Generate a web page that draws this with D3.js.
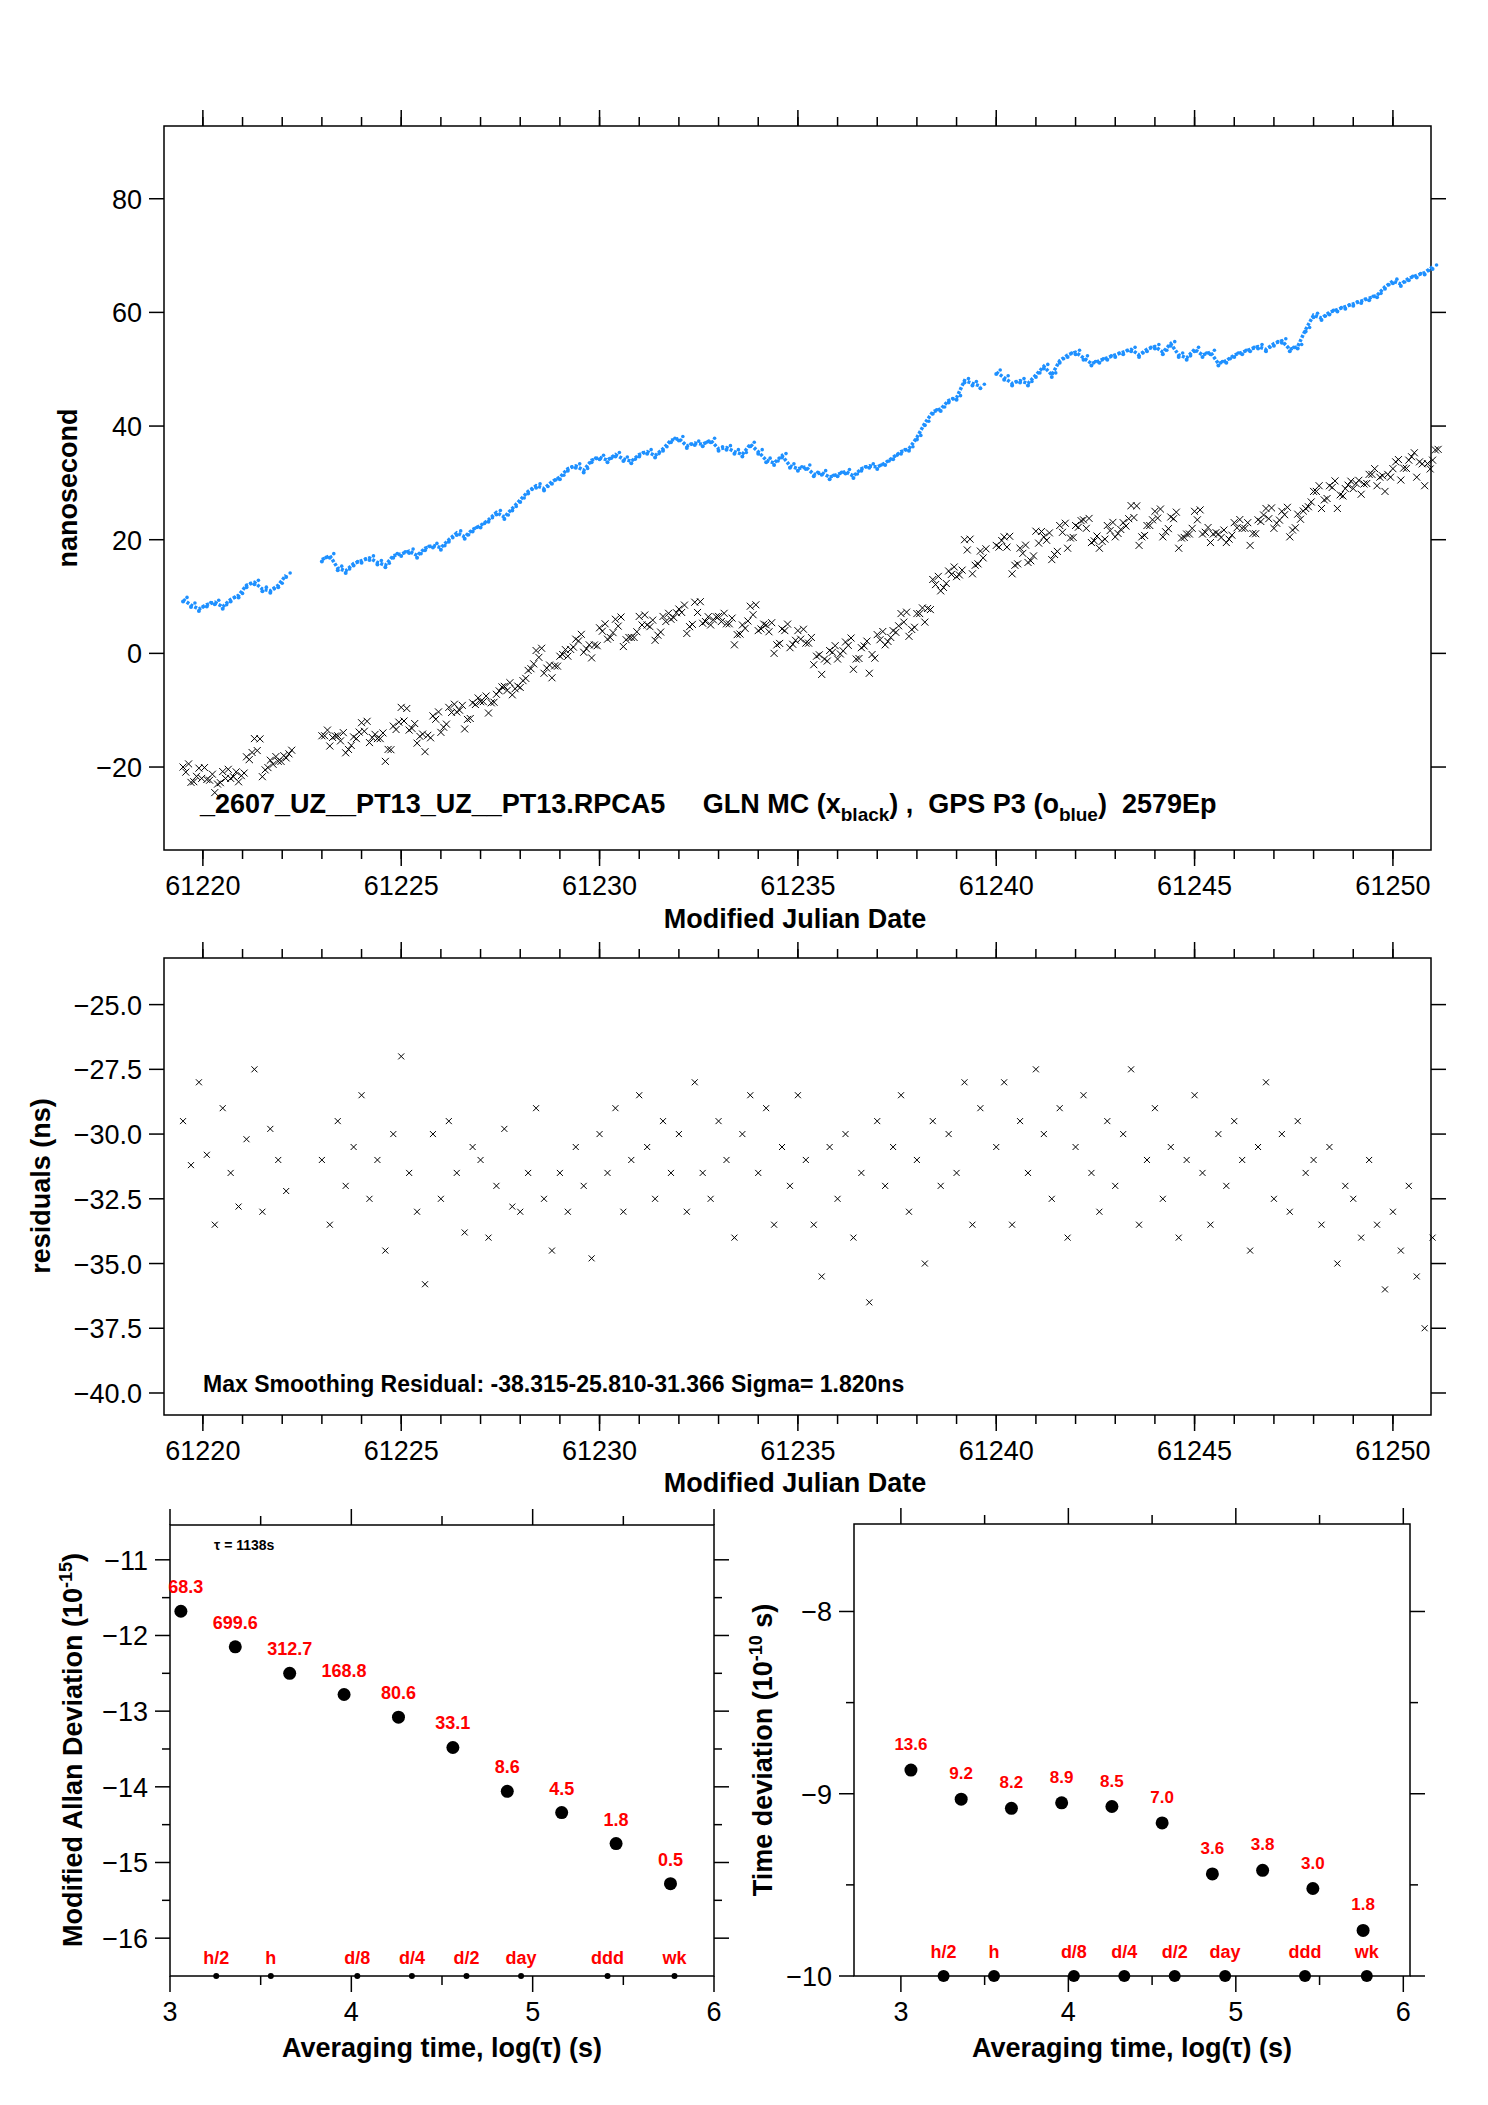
<!DOCTYPE html>
<html><head><meta charset="utf-8">
<script src="https://cdn.jsdelivr.net/npm/d3@7"></script>
<style>body{margin:0;background:#fff}text{font-family:"Liberation Sans",Arial,sans-serif}</style>
</head><body><svg id="c" width="1488" height="2105"></svg>
<script>
// ---- data ----
const segStarts=[61219.5,61223.0,61240.0];
const segCounts=[14,84,56];
const blueSeries=[9.5,8.5,7.8,8.6,9.0,8.2,9.5,10.2,12.0,12.5,11.3,11.0,12.0,13.8,
16.5,17.2,15.0,14.5,15.8,16.3,16.8,16.0,15.5,17.2,17.5,18.0,17.2,18.5,19.0,18.6,20.0,21.2,20.5,21.8,
22.5,23.5,24.8,24.0,25.5,27.0,28.5,29.5,29.0,30.2,31.0,32.5,33.0,32.2,34.0,34.5,34.0,35.0,34.2,33.8,
35.0,35.5,34.8,36.0,37.5,37.8,36.5,37.0,36.8,37.5,36.0,36.2,35.5,35.0,36.8,35.5,34.0,33.5,34.8,33.0,
32.5,32.8,31.5,31.8,31.0,31.5,32.0,31.2,32.5,33.0,32.8,33.5,34.5,35.5,36.0,38.0,40.5,42.5,43.0,44.5,
45.0,48.0,47.5,47.0,
49.5,48.5,47.5,48.0,47.5,49.0,50.5,49.0,51.5,52.5,53.0,52.0,51.0,51.5,52.0,52.5,53.0,53.5,52.5,53.5,
54.0,53.0,54.5,52.5,52.0,53.5,52.5,53.0,51.0,51.5,52.5,53.0,53.5,54.0,53.5,54.5,55.0,53.5,54.0,57.0,
59.5,59.0,60.0,60.5,61.0,61.5,62.0,62.5,63.0,64.5,65.5,65.0,66.0,66.5,67.0,68.0];
const residuals=[-29.5,-31.2,-28.0,-30.8,-33.5,-29.0,-31.5,-32.8,-30.2,-27.5,-33.0,-29.8,-31.0,-32.2,
-31.0,-33.5,-29.5,-32.0,-30.5,-28.5,-32.5,-31.0,-34.5,-30.0,-27.0,-31.5,-33.0,-35.8,-30.0,
-32.5,-29.5,-31.5,-33.8,-30.5,-31.0,-34.0,-32.0,-29.8,-32.8,-33.0,-31.5,-29.0,-32.5,-34.5,
-31.5,-33.0,-30.5,-32.0,-34.8,-30.0,-31.5,-29.0,-33.0,-31.0,-28.5,-30.5,-32.5,-29.5,-31.5,
-30.0,-33.0,-28.0,-31.5,-32.5,-29.5,-31.0,-34.0,-30.0,-28.5,-31.5,-29.0,-33.5,-30.5,-32.0,
-28.5,-31.0,-33.5,-35.5,-30.5,-32.5,-30.0,-34.0,-31.5,-36.5,-29.5,-32.0,-30.5,-28.5,-33.0,
-31.0,-35.0,-29.5,-32.0,-30.0,-31.5,-28.0,-33.5,-29.0,
-30.5,-28.0,-33.5,-29.5,-31.5,-27.5,-30.0,-32.5,-29.0,-34.0,-30.5,-28.5,-31.5,-33.0,-29.5,
-32.0,-30.0,-27.5,-33.5,-31.0,-29.0,-32.5,-30.5,-34.0,-31.0,-28.5,-31.5,-33.5,-30.0,-32.0,
-29.5,-31.0,-34.5,-30.5,-28.0,-32.5,-30.0,-33.0,-29.5,-31.5,-31.0,-33.5,-30.5,-35.0,-32.0,
-32.5,-34.0,-31.0,-33.5,-36.0,-33.0,-34.5,-32.0,-35.5,-37.5,-34.0];
const adevLogTau=[3.06,3.36,3.66,3.96,4.26,4.56,4.86,5.16,5.46,5.76];
const adevValues=[-11.68,-12.15,-12.5,-12.78,-13.08,-13.48,-14.06,-14.34,-14.75,-15.28];
const adevLabels=["68.3","699.6","312.7","168.8","80.6","33.1","8.6","4.5","1.8","0.5"];
const tdevValues=[-8.87,-9.03,-9.08,-9.05,-9.07,-9.16,-9.44,-9.42,-9.52,-9.75];
const tdevLabels=["13.6","9.2","8.2","8.9","8.5","7.0","3.6","3.8","3.0","1.8"];
const markNames=["h/2","h","d/8","d/4","d/2","day","ddd","wk"];
const markLogTau=[3.255,3.556,4.033,4.334,4.635,4.936,5.413,5.782];

// times grid
const times=[];segStarts.forEach((s,i)=>{for(let k=0;k<segCounts[i];k++)times.push(s+k*0.2);});
const pts=times.map((t,i)=>({t,b:blueSeries[i],r:residuals[i],k:blueSeries[i]+residuals[i]}));

const svg=d3.select("#c");
function frame(x,y){
  const [x0,x1]=x.range(),[y1,y0]=y.range();
  svg.append("rect").attr("x",x0).attr("y",y0).attr("width",x1-x0).attr("height",y1-y0).attr("fill","none").attr("stroke","#000").attr("stroke-width",1.5);
}
function xTicks(x,y,major,minor,fmt){
  const [y1,y0]=y.range();
  const g=svg.append("g");
  minor.forEach(v=>{g.append("line").attr("x1",x(v)).attr("x2",x(v)).attr("y1",y1).attr("y2",y1+9).attr("stroke","#000").attr("stroke-width",1.5);
    g.append("line").attr("x1",x(v)).attr("x2",x(v)).attr("y1",y0).attr("y2",y0-9).attr("stroke","#000").attr("stroke-width",1.5);});
  major.forEach(v=>{g.append("line").attr("x1",x(v)).attr("x2",x(v)).attr("y1",y1).attr("y2",y1+16).attr("stroke","#000").attr("stroke-width",1.5);
    g.append("line").attr("x1",x(v)).attr("x2",x(v)).attr("y1",y0).attr("y2",y0-16).attr("stroke","#000").attr("stroke-width",1.5);
    g.append("text").attr("x",x(v)).attr("y",y1+45).attr("text-anchor","middle").attr("font-size",27).text(fmt(v));});
}
function yTicks(x,y,major,minor,fmt){
  const [x0,x1]=x.range();
  const g=svg.append("g");
  minor.forEach(v=>{g.append("line").attr("x1",x0).attr("x2",x0-8).attr("y1",y(v)).attr("y2",y(v)).attr("stroke","#000").attr("stroke-width",1.5);
    g.append("line").attr("x1",x1).attr("x2",x1+8).attr("y1",y(v)).attr("y2",y(v)).attr("stroke","#000").attr("stroke-width",1.5);});
  major.forEach(v=>{g.append("line").attr("x1",x0).attr("x2",x0-15).attr("y1",y(v)).attr("y2",y(v)).attr("stroke","#000").attr("stroke-width",1.5);
    g.append("line").attr("x1",x1).attr("x2",x1+15).attr("y1",y(v)).attr("y2",y(v)).attr("stroke","#000").attr("stroke-width",1.5);
    g.append("text").attr("x",x0-22).attr("y",y(v)+10).attr("text-anchor","end").attr("font-size",27).text(fmt(v));});
}
const minus=s=>String(s).replace("-","\u2212");
function cross(g,cx,cy,s){g.append("path").attr("d",`M${cx-s},${cy-s}L${cx+s},${cy+s}M${cx-s},${cy+s}L${cx+s},${cy-s}`).attr("stroke","#000").attr("stroke-width",1);}

// ---- top plot ----
const x1=d3.scaleLinear().domain([61219.02,61250.96]).range([164,1431]);
const y1=d3.scaleLinear().domain([-34.6,92.8]).range([850,126]);
frame(x1,y1);
xTicks(x1,y1,d3.range(61220,61251,5),d3.range(61220,61251,1),d=>d);
yTicks(x1,y1,[-20,0,20,40,60,80],[],minus);
const gb=svg.append("g");
const segs=[pts.slice(0,14),pts.slice(14,98),pts.slice(98)];
segs.forEach(s=>gb.append("path").datum(s).attr("d",d3.line().x(d=>x1(d.t)).y(d=>y1(d.b))).attr("fill","none").attr("stroke","#1e90ff").attr("stroke-width",3.5).attr("stroke-dasharray","3,1.5"));
pts.forEach(d=>{gb.append("circle").attr("cx",x1(d.t)).attr("cy",y1(d.b)+2).attr("r",2).attr("fill","#1e90ff");
  gb.append("circle").attr("cx",x1(d.t+0.1)).attr("cy",y1(d.b)-2).attr("r",1.8).attr("fill","#1e90ff");});
const gk=svg.append("g");
pts.forEach(d=>{cross(gk,x1(d.t),y1(d.k),3.5);cross(gk,x1(d.t+0.07),y1(d.k-(d.r+31)*0.6),3.5);cross(gk,x1(d.t+0.14),y1(d.k-(d.r+31)*0.3+1),3.5);});
svg.append("text").attr("x",795).attr("y",928).attr("text-anchor","middle").attr("font-size",27).attr("font-weight","bold").text("Modified Julian Date");
svg.append("text").attr("transform","translate(77,488) rotate(-90)").attr("text-anchor","middle").attr("font-size",27).attr("font-weight","bold").text("nanosecond");
const lg=svg.append("text").attr("x",200).attr("y",813).attr("font-size",27).attr("font-weight","bold").attr("xml:space","preserve");
lg.append("tspan").text("_2607_UZ__PT13_UZ__PT13.RPCA5     GLN MC (x");
lg.append("tspan").attr("font-size",19).attr("dy",8).text("black");
lg.append("tspan").attr("dy",-8).text(") ,  GPS P3 (o");
lg.append("tspan").attr("font-size",19).attr("dy",8).text("blue");
lg.append("tspan").attr("dy",-8).text(")  2579Ep");

// ---- residuals ----
const x2=d3.scaleLinear().domain([61219.02,61250.96]).range([164,1431]);
const y2=d3.scaleLinear().domain([-40.85,-23.2]).range([1415,958]);
frame(x2,y2);
xTicks(x2,y2,d3.range(61220,61251,5),d3.range(61220,61251,1),d=>d);
yTicks(x2,y2,[-40,-37.5,-35,-32.5,-30,-27.5,-25],[],v=>minus(v.toFixed(1)));
const gr=svg.append("g");
pts.forEach(d=>cross(gr,x2(d.t),y2(d.r),3));
svg.append("text").attr("x",795).attr("y",1492).attr("text-anchor","middle").attr("font-size",27).attr("font-weight","bold").text("Modified Julian Date");
svg.append("text").attr("transform","translate(50,1186) rotate(-90)").attr("text-anchor","middle").attr("font-size",27).attr("font-weight","bold").text("residuals (ns)");
svg.append("text").attr("x",203).attr("y",1392).attr("font-size",23).attr("font-weight","bold").text("Max Smoothing Residual: -38.315-25.810-31.366  Sigma= 1.820ns");

// ---- ADEV ----
const x3=d3.scaleLinear().domain([3,6]).range([170,714]);
const y3=d3.scaleLinear().domain([-16.5,-10.54]).range([1976,1525]);
frame(x3,y3);
xTicks(x3,y3,[3,4,5,6],[3.5,4.5,5.5],d=>d);
yTicks(x3,y3,[-16,-15,-14,-13,-12,-11],[-15.5,-14.5,-13.5,-12.5,-11.5],minus);
adevLogTau.forEach((t,i)=>{svg.append("circle").attr("cx",x3(t)).attr("cy",y3(adevValues[i])).attr("r",6.5).attr("fill","#000");
  svg.append("text").attr("x",x3(t)+(i==0?5:0)).attr("y",y3(adevValues[i])-18).attr("text-anchor","middle").attr("font-size",18).attr("font-weight","bold").attr("fill","red").text(adevLabels[i]);});
markLogTau.forEach((t,i)=>{svg.append("circle").attr("cx",x3(t)).attr("cy",y3(-16.5)).attr("r",3).attr("fill","#000");
  svg.append("text").attr("x",x3(t)).attr("y",y3(-16.5)-12).attr("text-anchor","middle").attr("font-size",18).attr("font-weight","bold").attr("fill","red").text(markNames[i]);});
svg.append("text").attr("x",214).attr("y",1550).attr("font-size",14).attr("font-weight","bold").text("\u03c4 = 1138s");
svg.append("text").attr("x",442).attr("y",2057).attr("text-anchor","middle").attr("font-size",27).attr("font-weight","bold").text("Averaging time, log(\u03c4) (s)");
const ya=svg.append("text").attr("transform","translate(82,1750) rotate(-90)").attr("text-anchor","middle").attr("font-size",27).attr("font-weight","bold");
ya.append("tspan").text("Modified Allan Deviation (10");ya.append("tspan").attr("font-size",18).attr("dy",-10).text("-15");ya.append("tspan").attr("dy",10).text(")");

// ---- TDEV ----
const x4=d3.scaleLinear().domain([2.72,6.04]).range([854,1410]);
const y4=d3.scaleLinear().domain([-10,-7.52]).range([1976,1524]);
frame(x4,y4);
xTicks(x4,y4,[3,4,5,6],[3.5,4.5,5.5],d=>d);
yTicks(x4,y4,[-10,-9,-8],[-9.5,-8.5],minus);
adevLogTau.forEach((t,i)=>{svg.append("circle").attr("cx",x4(t)).attr("cy",y4(tdevValues[i])).attr("r",6.5).attr("fill","#000");
  svg.append("text").attr("x",x4(t)).attr("y",y4(tdevValues[i])-20).attr("text-anchor","middle").attr("font-size",17).attr("font-weight","bold").attr("fill","red").text(tdevLabels[i]);});
markLogTau.forEach((t,i)=>{svg.append("circle").attr("cx",x4(t)).attr("cy",y4(-10)).attr("r",6).attr("fill","#000");
  svg.append("text").attr("x",x4(t)).attr("y",y4(-10)-18).attr("text-anchor","middle").attr("font-size",18).attr("font-weight","bold").attr("fill","red").text(markNames[i]);});
svg.append("text").attr("x",1132).attr("y",2057).attr("text-anchor","middle").attr("font-size",27).attr("font-weight","bold").text("Averaging time, log(\u03c4) (s)");
const yb=svg.append("text").attr("transform","translate(772,1750) rotate(-90)").attr("text-anchor","middle").attr("font-size",27).attr("font-weight","bold");
yb.append("tspan").text("Time deviation (10");yb.append("tspan").attr("font-size",18).attr("dy",-10).text("-10");yb.append("tspan").attr("dy",10).text(" s)");
</script></body></html>
